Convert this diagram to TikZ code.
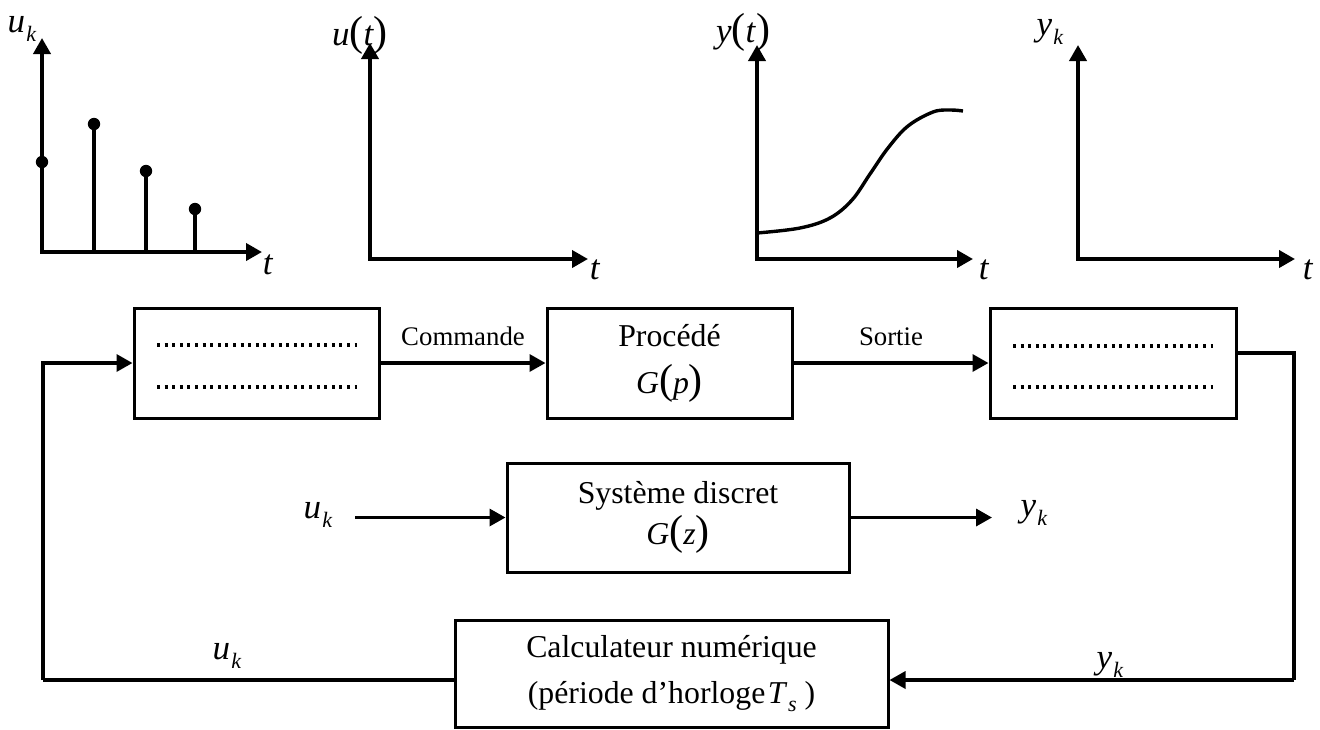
\documentclass[tikz,border=0pt]{standalone}
\usepackage{fontspec}
\setmainfont{Liberation Serif}
\usetikzlibrary{arrows.meta}

% italic variable with an italic subscript
\newcommand\isub[2]{\textit{#1}\kern0.04em\raisebox{-0.55ex}{\fontsize{11}{11}\selectfont\textit{#2}}}
% tall parentheses around a function argument
\newcommand\tallpar[1]{{\fontsize{21}{21}\selectfont #1}}
\newcommand\fnof[2]{\textit{#1}\tallpar{(}\textit{#2}\tallpar{)}}

\begin{document}
\begin{tikzpicture}[x=0.5pt,y=-0.5pt,
  font=\fontsize{15.9}{19}\selectfont,
  tip/.tip={Triangle[length=8pt,width=8.5pt]},
  box/.style={draw, line width=1.5pt, inner sep=0pt, align=center},
  conn/.style={line width=1.7pt, -tip},
  wire/.style={line width=1.7pt},
  axis/.style={line width=1.9pt, tip-tip},
  stem/.style={line width=1.6pt},
  dotline/.style={line width=1.6pt, dash pattern=on 1.5pt off 2.3pt},
  small/.style={inner sep=0pt, font=\fontsize{13.4}{16}\selectfont},
  var/.style={inner sep=0pt, font=\fontsize{17.5}{20}\selectfont}
]
\useasboundingbox (0,0) rectangle (1320,729);

% ---- sampled input u_k ----
\draw[axis] (42,38) -- (42,252) -- (262,252);
\draw[stem] (94,252) -- (94,124);
\draw[stem] (146,252) -- (146,171);
\draw[stem] (195,252) -- (195,209);
\foreach \px/\py in {42/162, 94/124, 146/171, 195/209}
  \fill (\px,\py) circle[radius=3.1pt];
\node[var] (uklab) at (22,29) {\isub{u}{k}};
\node[var] (t1) at (268,265) {\textit{t}};

% ---- continuous input u(t) ----
\draw[axis] (370,43) -- (370,259) -- (588,259);
\node[var] (utlab) at (360,35) {\fnof{u}{t}};
\node[var] (t2) at (595,270) {\textit{t}};

% ---- continuous output y(t) ----
\draw[axis] (757,45) -- (757,259) -- (973,259);
\draw[line width=1.7pt] plot[smooth, tension=0.6] coordinates
  {(757,233) (800,228) (830,218) (852,200) (870,174) (888,148) (908,126) (933,112) (950,110) (963,111)};
\node[var] (ytlab) at (743,32) {\fnof{y}{t}};
\node[var] (t3) at (984,270) {\textit{t}};

% ---- sampled output y_k ----
\draw[axis] (1078,45) -- (1078,259) -- (1295,259);
\node[var] (yklab) at (1050,32) {\isub{y}{k}};
\node[var] (t4) at (1308,270) {\textit{t}};

% ---- upper chain ----
\node[box, minimum width=122.5pt, minimum height=55pt] (cna) at (256.5,363) {};
\draw[dotline] (157,345) -- (357,345);
\draw[dotline] (157,387) -- (357,387);

\node[box, minimum width=122.5pt, minimum height=55pt,
      font=\fontsize{15.9}{23.5}\selectfont] (proc) at (669.5,363)
      {Procédé\\ \fnof{G}{p}};

\node[box, minimum width=123pt, minimum height=55pt] (can) at (1113,363) {};
\draw[dotline] (1013,346) -- (1213,346);
\draw[dotline] (1013,387) -- (1213,387);

\draw[conn] (cna) -- (proc) node[small, midway, above=8pt] (cmd) {Commande};
\draw[conn] (proc) -- (can) node[small, midway, above=8pt] (out) {Sortie};

% ---- discrete system ----
\node[box, minimum width=171pt, minimum height=54.5pt,
      font=\fontsize{15.9}{20.5}\selectfont] (sys) at (678,517.5)
      {Système discret\\ \fnof{G}{z}};
\coordinate (sysin) at (355,517.5);
\coordinate (sysout) at (992,517.5);
\draw[conn] (sysin) -- (sys);
\draw[conn] (sys) -- (sysout);
\node[var] (ukin) at (318,515) {\isub{u}{k}};
\node[var] (ykout) at (1034,513) {\isub{y}{k}};

% ---- digital computer and loop ----
\node[box, minimum width=216.5pt, minimum height=53.5pt,
      font=\fontsize{15.9}{23}\selectfont] (calc) at (671.5,673.5)
      {Calculateur numérique\\ (période d’horloge\kern0.08em\textit{T}\kern0.02em\raisebox{-0.55ex}{\fontsize{11}{11}\selectfont\textit{s}}\ )};
\coordinate (fbR) at (1294,680);
\coordinate (fbL) at (43,680);
\draw[wire] ([yshift=5pt]can.east) -| (fbR);
\draw[conn] (fbR) -- (calc.east |- fbR);
\draw[wire] (calc.west |- fbL) -- (fbL);
\draw[conn] (fbL) |- (cna.west);
\node[var] (ykfb) at (1110,665) {\isub{y}{k}};
\node[var] (ukfb) at (227,656) {\isub{u}{k}};
\end{tikzpicture}
\end{document}
